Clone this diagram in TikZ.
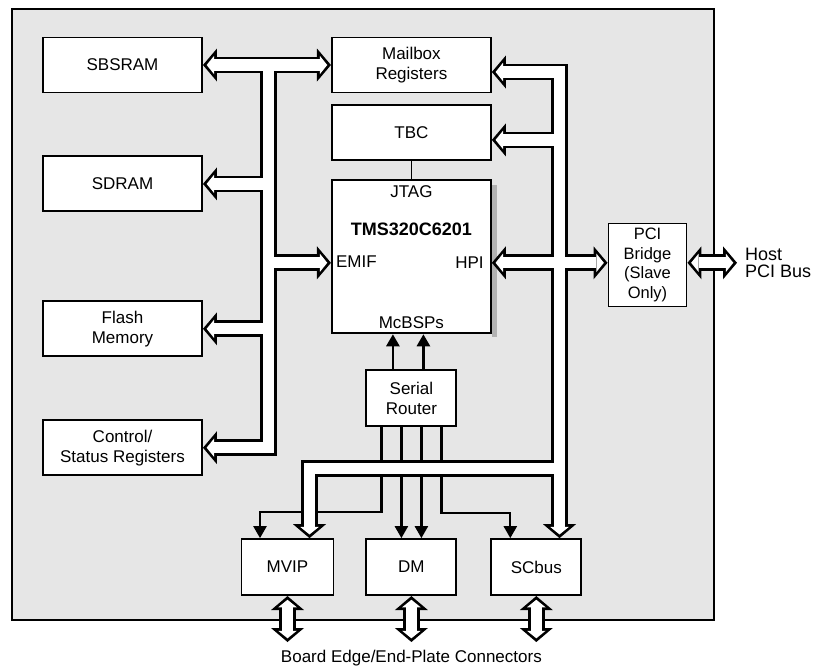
\documentclass[tikz,border=0pt]{standalone}
\usepackage{fontspec}
\setmainfont{Liberation Sans}
\usepackage{tikz}
\usetikzlibrary{arrows.meta,positioning,calc}
\definecolor{BoardGray}{HTML}{E6E6E6}
\newcommand{\boxfont}{\fontsize{17}{20}\selectfont}

% every bus is drawn twice: black outline pass, then white inner pass
\newcommand{\busnet}[1]{%
  % EMIF side
  \draw[#1,<->] (sbsram.east) -- (mailbox.west);
  \draw[#1,->] (lbus) -- (lbus |- ctrl.east) -- (ctrl.east);
  \draw[#1,->] (lbus |- sdram.east) -- (sdram.east);
  \draw[#1,->] (lbus |- flash.east) -- (flash.east);
  \draw[#1,->] (lbus |- emif) -- (emif);
  % HPI side
  \draw[#1,<->] (mbxport) -| (rbus |- scbus.north);
  \draw[#1,->] (tbcport -| rbus) -- (tbcport);
  \draw[#1,<->] (hpi) -- (hpi -| pci.west);
  \draw[#1,->] (bbus) -| ([xshift=22pt]mvip.north);
  % off-board
  \draw[#1,<->] (hpi -| pci.east) -- (hpi -| host);
  \draw[#1,<->] (mvip.south) -- (edge -| mvip.south);
  \draw[#1,<->] (dm.south) -- (edge -| dm.south);
  \draw[#1,<->] (scbus.south) -- (edge -| scbus.south);
}

\begin{document}
\begin{tikzpicture}[
  x=1pt, y=-1pt,
  box/.style={draw, line width=1.9pt, fill=white, align=center, inner sep=0pt,
    minimum width=159pt, minimum height=55pt, font=\boxfont},
  small/.style={box, minimum width=90pt, minimum height=56pt},
  port/.style={inner sep=0pt, font=\boxfont},
  sline/.style={line width=2.3pt, -{Triangle[length=12pt,width=13pt]}},
  busout/.style={line width=16.8pt,
    >={Triangle[length=14pt,width=33pt,line width=0pt]}},
  busin/.style={white, line width=11.2pt, shorten >=3.7pt, shorten <=3.7pt,
    >={Triangle[length=7.5pt,width=18.5pt,line width=0pt]}}
]
\useasboundingbox (0,0) rectangle (821,667);
\draw[line width=1.8pt, fill=BoardGray] (12,9) rectangle (714,620);

% memory column
\node[box] (sbsram) at (122.5,65) {SBSRAM};
\node[box, below=62pt of sbsram] (sdram) {SDRAM};
\node[box, below=88pt of sdram] (flash) {Flash\\Memory};
\node[box, below=62pt of flash] (ctrl) {Control/\\Status Registers};

% DSP column
\node[box, right=128pt of sbsram] (mailbox) {Mailbox\\Registers};
\node[box, below=11pt of mailbox] (tbc) {TBC};
\node[box, below=18pt of tbc, minimum height=153pt] (dsp) {};
\fill[gray!60] ([yshift=-6pt]dsp.north east) rectangle ([xshift=5pt,yshift=-3pt]dsp.south east);
\node[small, below=35pt of dsp] (router) {Serial\\Router};
\node[small, below=111pt of router] (dm) {DM};
\node[small, left=31pt of dm, minimum width=92pt] (mvip) {MVIP};
\node[small, right=33pt of dm] (scbus) {SCbus};
\node[box, minimum width=78pt, minimum height=83pt, font=\fontsize{16.5}{19.5}\selectfont]
  (pci) at (647.5,265) {PCI\\Bridge\\(Slave\\Only)};

% DSP ports
\node[port, anchor=base] (jtag) at ([yshift=-18pt]dsp.north) {JTAG};
\node[port, anchor=base, font=\fontsize{18}{20}\selectfont\bfseries] (chip) at ([yshift=-56pt]dsp.north) {TMS320C6201};
\node[port, anchor=base west] (emiflbl) at ([xshift=5pt,yshift=-11pt]dsp.west) {EMIF};
\node[port, anchor=base east] (hpilbl) at ([xshift=-8pt,yshift=-12pt]dsp.east) {HPI};
\node[port, anchor=base] (mcbsp) at ([yshift=6pt]dsp.south) {McBSPs};
\draw[line width=1.5pt] (tbc) -- (dsp);

% bus points
\coordinate (lbus) at (268.5,65);
\coordinate (rbus) at (559.5,0);
\coordinate (bbus) at (559.5,468.5);
\coordinate (host) at (737,0);
\coordinate (edge) at (0,642);
\coordinate (emif) at ([yshift=-6pt]dsp.west);
\coordinate (hpi) at ([yshift=-6pt]dsp.east);
\coordinate (mbxport) at ([yshift=-7pt]mailbox.east);
\coordinate (tbcport) at ([yshift=-7pt]tbc.east);

% serial links
\draw[sline, line width=2.6pt] ([xshift=-18.5pt]router.north) -- ([xshift=-18.5pt]dsp.south);
\draw[sline, line width=2.6pt] ([xshift=12pt]router.north) -- ([xshift=12pt]dsp.south);
\draw[sline] ([xshift=-30pt]router.south) -- ++(0,85) -| ([xshift=-27.5pt]mvip.north);
\draw[sline] ([xshift=-10pt]router.south) -- ([xshift=-10pt]dm.north);
\draw[sline] ([xshift=10pt]router.south) -- ([xshift=10pt]dm.north);
\draw[sline] ([xshift=30pt]router.south) -- ++(0,86) -| ([xshift=-26pt]scbus.north);

\busnet{busout}
\busnet{busin}

\node[anchor=west, align=left, inner sep=0pt, font=\fontsize{18}{16.5}\selectfont]
  (hostlbl) at ([xshift=8pt]hpi -| host) {Host\\PCI Bus};
\node[port] (edgelbl) at ([yshift=-16pt]edge -| dm.south) {Board Edge/End-Plate Connectors};
\end{tikzpicture}
\end{document}
